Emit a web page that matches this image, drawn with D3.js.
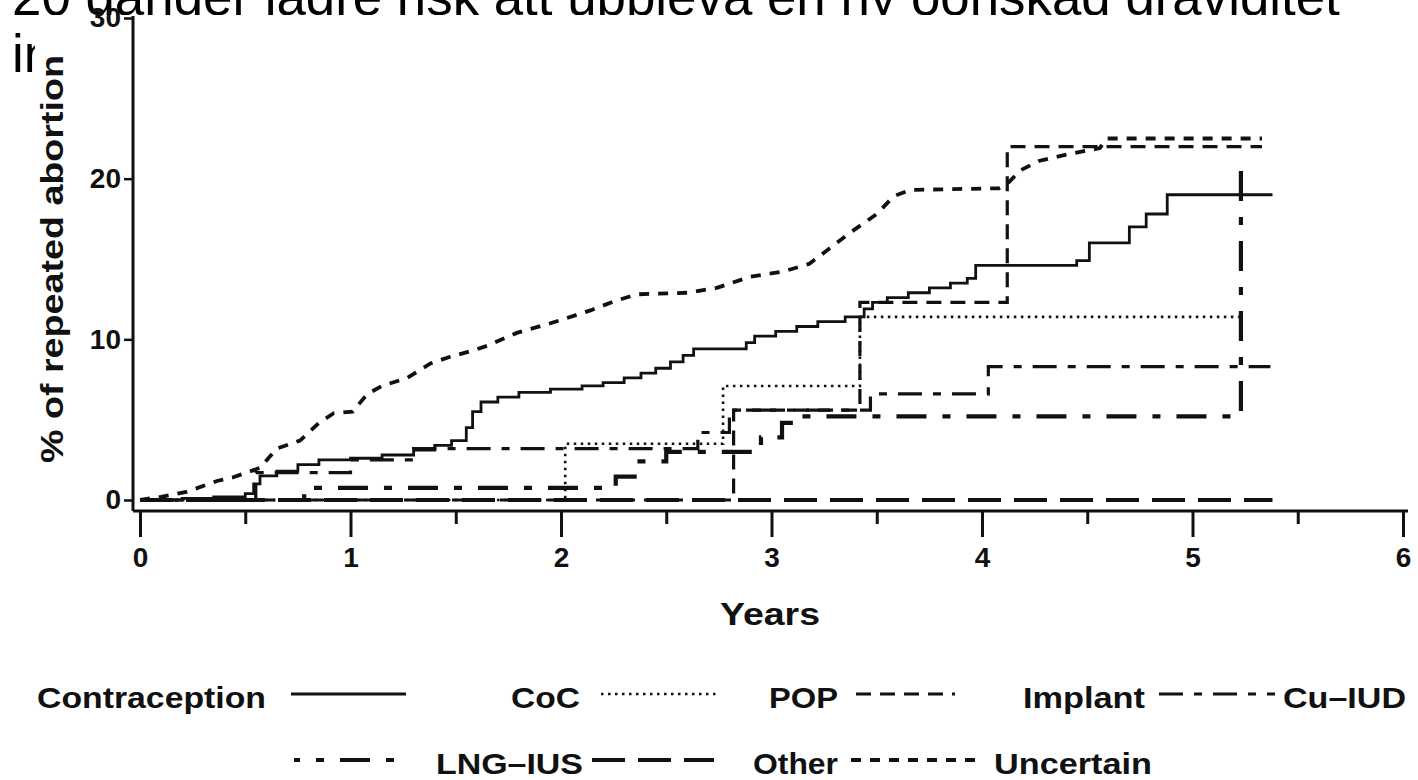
<!DOCTYPE html>
<html>
<head>
<meta charset="utf-8">
<script src="https://cdn.jsdelivr.net/npm/d3@7"></script>
<style>
	body { margin: 0; background: #fff; }
	svg { display: block; }
</style>
</head>
<body>
<svg id="chart" width="1418" height="780"></svg>
<script>
// headline sits behind the pasted chart picture
var titleLines = ['20 gånger lägre risk att uppleva en ny oönskad graviditet', 'in'];

var xTicks = [0, 1, 2, 3, 4, 5, 6];
var xMinorTicks = [0.5, 1.5, 2.5, 3.5, 4.5, 5.5];
var yTicks = [0, 10, 20, 30];

var legendHeader = 'Contraception';
var seriesNames = ['CoC', 'POP', 'Implant', 'Cu–IUD', 'LNG–IUS', 'Other', 'Uncertain'];

// cumulative % of repeated abortion, [years, %]
var coc = [[0,0],[0.2,0.1],[0.35,0.2],[0.5,0.4],[0.54,1.0],[0.57,1.5],[0.65,1.8],[0.75,2.2],[0.85,2.5],
	[1.0,2.6],[1.15,2.8],[1.3,3.1],[1.4,3.4],[1.48,3.7],[1.55,4.5],[1.58,5.5],[1.62,6.1],[1.7,6.4],
	[1.8,6.7],[1.95,6.9],[2.1,7.1],[2.2,7.3],[2.3,7.6],[2.38,7.9],[2.45,8.2],[2.52,8.6],[2.58,9.0],
	[2.63,9.4],[2.88,9.8],[2.92,10.2],[3.02,10.5],[3.12,10.8],[3.22,11.1],[3.35,11.4],[3.44,11.9],
	[3.48,12.3],[3.55,12.6],[3.65,12.9],[3.75,13.2],[3.85,13.5],[3.93,13.8],[3.97,14.6],[4.45,14.9],
	[4.51,16.0],[4.7,17.0],[4.78,17.8],[4.88,19.0],[5.38,19.0]];
var pop = [[0,0],[2.02,3.5],[2.77,7.1],[3.42,11.4],[5.22,11.4]];
var implant = [[0,0],[2.82,5.6],[3.42,12.3],[4.12,22.0],[5.33,22.0]];
var cuIud = [[0,0],[0.55,1.7],[1.0,2.5],[1.3,3.2],[2.65,4.2],[2.8,5.6],[3.47,6.6],[4.03,8.3],[5.37,8.3]];
var lngIus = [[0,0],[0.78,0.75],[2.26,1.45],[2.36,2.4],[2.5,3.0],[2.95,3.9],[3.05,4.8],[3.12,5.2],
	[5.23,21.0],[5.25,21.0]];
var other = [[0,0],[5.38,0]];
var uncertain = [[0,0],[0.1,0.2],[0.22,0.5],[0.37,1.2],[0.44,1.4],[0.57,2.0],[0.65,3.2],[0.76,3.7],
	[0.85,4.8],[0.92,5.4],[1.01,5.5],[1.08,6.6],[1.15,7.1],[1.27,7.6],[1.38,8.5],[1.47,8.9],[1.58,9.3],
	[1.65,9.6],[1.79,10.4],[1.95,11.0],[2.14,11.8],[2.26,12.4],[2.36,12.8],[2.6,12.9],[2.74,13.2],
	[2.9,13.9],[3.05,14.2],[3.18,14.7],[3.26,15.5],[3.37,16.6],[3.5,17.8],[3.58,18.9],[3.66,19.3],
	[4.08,19.4],[4.13,19.8],[4.18,20.5],[4.27,21.1],[4.4,21.5],[4.56,21.9],[4.59,22.5],[5.33,22.5]];

var seriesData = [coc, pop, implant, cuIud, lngIus, other, uncertain];

// line look per series, same order as seriesNames
var lineStyles = [
	{ dash: null, width: 2.8, curve: d3.curveStepAfter },
	{ dash: '2.5,4.5', width: 2.6, curve: d3.curveStepAfter },
	{ dash: '15,9', width: 3.2, curve: d3.curveStepAfter },
	{ dash: '24,11,8,11', width: 3.2, curve: d3.curveStepAfter },
	{ dash: '30,16,8,16', width: 4.2, curve: d3.curveStepAfter },
	{ dash: '33,13', width: 3.8, curve: d3.curveStepAfter },
	{ dash: '10,9', width: 3.8, curve: d3.curveLinear }
];

var svg = d3.select('#chart'),
	font = '"Liberation Sans", Arial, Helvetica, sans-serif';

// title, big plain text; only the bottom strip of line one shows
var title = svg.append('g').attr('font-family', font).attr('fill', '#000');
var t1 = title.append('text').attr('x', 12).attr('y', 15).attr('font-size', 54).text(titleLines[0]);
var w = t1.node().getComputedTextLength();
t1.attr('font-size', 54 * 1328 / w);
title.append('text').attr('x', 12).attr('y', 72).attr('font-size', 54 * 1328 / w).text(titleLines[1]);

// the chart picture covers the rest of the headline
svg.append('rect').attr('x', 35).attr('y', 15).attr('width', 1383).attr('height', 765).attr('fill', '#fff');

var x = d3.scaleLinear().domain([0, 6]).range([140, 1403]),
	y = d3.scaleLinear().domain([0, 30]).range([500, 18]);

var ink = '#111';

// y axis
var yAxis = svg.append('g')
	.attr('transform', 'translate(133,0)')
	.call(d3.axisLeft(y).tickValues(yTicks).tickSize(9).tickPadding(3).tickSizeOuter(0).tickFormat(d3.format('d')));
yAxis.select('.domain').attr('d', 'M0,' + (y(30) - 2) + 'V511').attr('stroke', ink).attr('stroke-width', 3);
yAxis.selectAll('.tick line').attr('stroke', ink).attr('stroke-width', 2.5);
yAxis.selectAll('.tick text')
	.attr('font-family', font).attr('font-weight', 'bold').attr('font-size', 28).attr('fill', ink);

// x axis
var xAxis = svg.append('g')
	.attr('transform', 'translate(0,511)')
	.call(d3.axisBottom(x).tickValues(xTicks).tickSize(26).tickPadding(10).tickSizeOuter(0).tickFormat(d3.format('d')));
xAxis.select('.domain').attr('d', 'M133,0H1408').attr('stroke', ink).attr('stroke-width', 3);
xAxis.selectAll('.tick line').attr('stroke', ink).attr('stroke-width', 3);
xAxis.selectAll('.tick text')
	.attr('font-family', font).attr('font-weight', 'bold').attr('font-size', 28).attr('fill', ink);

svg.append('g')
	.attr('transform', 'translate(0,511)')
	.call(d3.axisBottom(x).tickValues(xMinorTicks).tickSize(13).tickFormat(''))
	.call(function(g){
		g.select('.domain').remove();
		g.selectAll('.tick line').attr('stroke', ink).attr('stroke-width', 3);
	});

// axis titles
svg.append('text')
	.attr('transform', 'translate(63,259) rotate(-90)')
	.attr('text-anchor', 'middle')
	.attr('font-family', font).attr('font-weight', 'bold').attr('font-size', 31).attr('fill', ink)
	.attr('textLength', 408).attr('lengthAdjust', 'spacingAndGlyphs')
	.text('% of repeated abortion');

svg.append('text')
	.attr('x', 770).attr('y', 625)
	.attr('text-anchor', 'middle')
	.attr('font-family', font).attr('font-weight', 'bold').attr('font-size', 32).attr('fill', ink)
	.attr('textLength', 100).attr('lengthAdjust', 'spacingAndGlyphs')
	.text('Years');

// curves
var plot = svg.append('g').attr('fill', 'none').attr('stroke', ink);
seriesData.forEach(function(pts, i){
	var st = lineStyles[i];
	var line = d3.line()
		.x(function(d){ return x(d[0]); })
		.y(function(d){ return y(d[1]); })
		.curve(st.curve);
	plot.append('path')
		.attr('d', line(pts))
		.attr('stroke-width', st.width)
		.attr('stroke-dasharray', st.dash);
});

// legend: header, then line + name per series (text a bit wider than the font, as in the picture)
var legendRows = [697, 763];
var headerBox = [37, 266];
var legendSlots = [
	{ row: 0, line: [291, 406], text: [511, 580] },
	{ row: 0, line: [601, 719], text: [769, 838] },
	{ row: 0, line: [856, 955], text: [1023, 1145] },
	{ row: 0, line: [1159, 1275], text: [1283, 1406] },
	{ row: 1, line: [294, 404], text: [436, 583], offset: 24 },
	{ row: 1, line: [592, 714], text: [753, 838] },
	{ row: 1, line: [851, 975], text: [994, 1152] }
];

var legend = svg.append('g')
	.attr('font-family', font).attr('font-weight', 'bold').attr('font-size', 30).attr('fill', ink);

legend.append('text')
	.attr('x', headerBox[0]).attr('y', legendRows[0] + 11)
	.attr('textLength', headerBox[1] - headerBox[0]).attr('lengthAdjust', 'spacingAndGlyphs')
	.text(legendHeader);

legendSlots.forEach(function(s, i){
	var ly = legendRows[s.row] - 3,
		st = lineStyles[i];
	legend.append('line')
		.attr('x1', s.line[0]).attr('x2', s.line[1])
		.attr('y1', ly).attr('y2', ly)
		.attr('stroke', ink)
		.attr('stroke-width', st.width)
		.attr('stroke-dasharray', st.dash)
		.attr('stroke-dashoffset', s.offset || 0);
	legend.append('text')
		.attr('x', s.text[0]).attr('y', legendRows[s.row] + 11)
		.attr('textLength', s.text[1] - s.text[0]).attr('lengthAdjust', 'spacingAndGlyphs')
		.text(seriesNames[i]);
});
</script>
</body>
</html>
